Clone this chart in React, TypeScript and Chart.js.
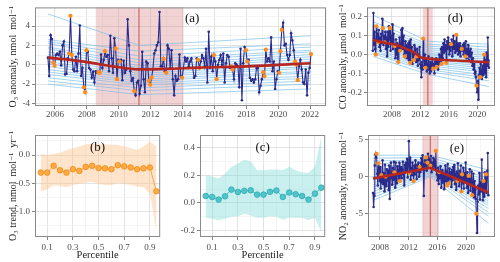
import React, { useEffect, useRef } from 'react';
import { Chart, registerables } from 'chart.js';
Chart.register(...registerables);

const SERIF = "'Liberation Serif', 'DejaVu Serif', serif";

// ---------- Panel (a): O3 anomaly ----------
const o3Start = 2005.56;
const o3Values = [
  0.73, -1.17, 3.06, 2.66, 0.23, -0.1, 1.0, 1.16, 1.0, 1.33,
  -0.07, 2.0, 2.4, -1.0, -0.94, 0.66, 1.16, 5.06, 1.0, -0.5,
  -0.67, 0.83, -0.67, 1.16, 4.06, -1.17, -0.34, -2.34, -2.84, 1.5,
  1.33, -0.34, -0.5, -1.34, -0.74, -1.84, -0.67, -0.84, -0.77, -0.84,
  1.06, -0.34, 0.5, 1.4, 0.83, 1.0, -0.67, 3.0, 0.66, -0.84,
  2.73, 1.66, -1.5, 0.5, 0.33, 0.5, -1.6, 0.4, -0.84, -0.5,
  4.7, 2.0,
  -0.67, -1.67, -1.4, -2.74, -3.17, -1.84, -1.67, -3.0, -2.17, 1.33,
  -1.5, -2.84, 0.33, 0.16, -1.67, -2.07, -1.34, -0.5, 1.16, 1.5,
  2.0, 2.33, 5.45, -0.17, -0.17, 0.6, -0.67, -0.84, 2.0, 1.66,
  -0.34, 1.5, -1.5, -3.17, -1.17, -1.67, -1.5, 1.06, -1.17, -1.34,
  -0.34, 0.73, 0.33, 0.66, -0.17, 0.33, 0.66, -0.34, -1.34, -1.17,
  0.66, 0.5, -0.34, 0.33, 1.0, 0.66, -0.17, 1.66, -1.84, 3.4,
  -0.34, 0.83, -0.67, 1.0, 0.33, -1.5, 0.0, 0.5, 1.0, 0.0,
  1.16, -1.84, 0.16, 1.0,
  0.83, -0.34, -0.17, -0.5, -1.5, 0.16, 0.0, -0.17, -2.34, 1.66,
  -3.67, 0.16, 1.83, 1.5, 0.33, 0.5, -1.34, -1.67, -1.5, -1.84,
  -1.5, -0.34, -0.34, -2.84, -2.17, -1.5, -0.77, -1.17, 1.56, 0.33,
  0.66, 0.33, 2.83, -0.67, 0.33, -2.5, -1.5, -0.67, -0.84, 1.4,
  3.6, 4.33, 2.0, 2.16, 1.0, 0.5, 1.0, 3.26, 2.5, 1.5,
  0.33, 0.0, -1.6, -0.17, 0.5, -0.5, -1.84, -2.0, -0.5, -3.17,
  -0.84, -0.34, 1.1,
];
const o3Orange = [4, 5, 16, 17, 18, 27, 28, 29, 38, 39, 43, 51, 52, 54, 65, 76, 77, 78, 87, 89, 101, 113, 114, 125, 127,
  138, 139, 149, 150, 162, 163, 164, 174, 175, 176, 186, 187, 188, 198];
const o3TrendYears = [2005.56, 2007.0, 2008.0, 2009.65, 2011.3, 2013.0, 2015.0, 2018.0, 2020.0, 2022.06];
const o3TrendValues = [0.73, 0.5, 0.27, -0.17, -0.48, -0.43, -0.3, -0.17, -0.02, 0.16];
const o3QYears = [2005.56, 2011.3, 2022.06];
const o3QStart = [-2.0, -1.67, -1.34, -1.0, -0.74, -0.5, -0.17, 0.1, 0.33, 0.6, 0.83, 1.06, 1.33, 1.66, 1.83, 2.2, 2.4, 2.6, 5.26];
const o3QBreak = [-3.1, -2.7, -2.4, -2.1, -1.9, -1.7, -1.5, -1.3, -1.1, -0.9, -0.7, -0.5, -0.3, -0.1, 0.2, 0.5, 0.9, 1.4, 2.0];
const o3QEnd = [-2.5, -2.0, -1.67, -1.4, -1.17, -0.84, -0.67, -0.34, -0.17, 0.07, 0.33, 0.6, 0.83, 1.06, 1.33, 1.5, 1.83, 2.16, 3.0];
const o3Band = [2008.56, 2014.06];
const o3Change = 2011.27;
const aXMajor = [2006, 2008, 2010, 2012, 2014, 2016, 2018, 2020, 2022];
const aXMinor = [2005, 2007, 2009, 2011, 2013, 2015, 2017, 2019, 2021, 2023];
const aYMajor = [-4, -2, 0, 2, 4];
const aYMinor = [-3, -1, 1, 3, 5];

// ---------- Panel (d): CO anomaly ----------
const coStart = 2005.32;
const coValues = [
  0.02, 0.22, 0.05, 0.12, 0.03, 0.00, 0.15, 0.07, 0.11, 0.065, 0.13, 0.04,
  0.09, 0.02, 0.11, 0.06, 0.19, 0.14, 0.05, 0.10, 0.065, 0.12, 0.03, 0.09,
  -0.01, 0.12, 0.04, 0.15, 0.08, 0.14, 0.02, 0.10, 0.06, 0.16, 0.03, 0.11,
  0.05, 0.045, -0.02, 0.08, 0.00, 0.06, -0.04, -0.04, 0.04, 0.09, 0.02, 0.03,
  0.13, 0.05, 0.14, 0.03, 0.10, 0.00, -0.01, 0.07, 0.01, 0.05, -0.02, 0.04,
  0.06, -0.03, 0.07, -0.045, 0.08, 0.02, 0.04, -0.05, 0.01, -0.03, 0.05, 0.00,
  0.02, -0.04, -0.01, 0.03, -0.06, 0.00, -0.03, 0.04, -0.05, -0.07, -0.12, -0.04,
  -0.08, 0.085, -0.02, -0.06, 0.00, -0.07, -0.03, -0.09, -0.05, -0.08, -0.01, -0.06,
  -0.10, -0.04, -0.09, -0.06, -0.02, -0.07, -0.075, -0.05, -0.10, -0.04, -0.06, -0.02,
  -0.065, -0.03, -0.08, -0.05, 0.00, -0.04, -0.01, 0.03, -0.05, 0.04, -0.02, 0.06,
  0.01, 0.08, 0.02, 0.05, -0.045, 0.07, 0.03, 0.09, 0.04, 0.00, 0.06, 0.02,
  0.055, 0.08, -0.01, 0.05, 0.10, 0.03, 0.07, 0.01, 0.04, 0.105, 0.02, 0.06,
  0.00, 0.05, 0.01, 0.06, -0.01, 0.04, 0.03, 0.02, 0.05, 0.00, 0.06, 0.02,
  -0.01, 0.07, -0.02, 0.03, 0.00, 0.05, -0.03, 0.02, -0.01, 0.03, -0.04, 0.01,
  -0.06, -0.02, -0.08, -0.05, -0.10, -0.09, -0.12, -0.165, -0.20, -0.14, -0.24, -0.11,
  -0.07, -0.12, -0.05, -0.09, -0.13, -0.06, -0.11, -0.04, 0.00, -0.10, -0.03, -0.12,
  0.01, -0.06, 0.09, -0.03, -0.07,
];
const coOrange = [5, 6, 9, 17, 20, 29, 37, 43, 46, 54, 63, 69, 74, 85, 89, 102, 108, 116, 124, 132, 141, 150, 156, 175, 181, 188];
const coTrendYears = [2005.32, 2007.0, 2008.7, 2010.0, 2011.0, 2012.2, 2013.0, 2014.3, 2017.0, 2019.5, 2021.65];
const coTrendValues = [0.077, 0.063, 0.05, 0.03, 0.014, -0.017, -0.021, -0.026, -0.032, -0.037, -0.041];
const coQYears = [2005.32, 2013.05, 2021.65];
const coQStart = [-0.01, 0.005, 0.015, 0.025, 0.035, 0.045, 0.055, 0.065, 0.072, 0.08, 0.088, 0.096, 0.105, 0.115, 0.125, 0.14, 0.155, 0.175, 0.21];
const coQBreak = [-0.105, -0.09, -0.08, -0.07, -0.06, -0.05, -0.04, -0.032, -0.025, -0.018, -0.01, -0.002, 0.006, 0.015, 0.025, 0.035, 0.045, 0.055, 0.07];
const coQEnd = [-0.17, -0.14, -0.125, -0.11, -0.095, -0.085, -0.075, -0.065, -0.055, -0.045, -0.035, -0.025, -0.015, -0.005, 0.005, 0.015, 0.025, 0.04, 0.055];
const coBand = [2012.35, 2013.75];
const coChange = 2013.05;
const dXMajor = [2008, 2012, 2016, 2020];
const dXMinor = [2006, 2010, 2014, 2018, 2022];
const dYMajor = [-0.2, -0.1, 0.0, 0.1, 0.2];
const dYMinor = [-0.25, -0.15, -0.05, 0.05, 0.15, 0.25];

// ---------- Panel (e): NO2 anomaly ----------
const no2Start = 2007.03;
const no2Values = [
  -2.2, -4.1, -2.6, 1.5, 3.0, 2.6, 3.1, 0.4, -1.2, 1.8, 0.9, -0.6,
  1.3, -1.6, 0.2, -0.8, 2.2, -1.0, 0.5, -2.0, 1.6, 0.0, -1.3, 1.0,
  -0.5, 0.8, -1.8, 1.5, -3.0, -0.2, 1.9, 0.3, -1.1, 1.2, -0.4, 2.0,
  0.6, -1.5, 1.9, 0.1, -0.9, 1.4, 0.8, -0.3, 1.9, -0.6, 0.4, 1.3,
  -0.2, 1.0, 2.0, 0.3, -1.2, 1.6, 0.6, 1.9, 0.9, 2.4, -0.1, 1.7,
  4.8, 0.5, 2.6, -0.4, 1.2, 0.2, 1.9, 0.8, -0.6, 1.5, 0.3, 2.2,
  0.9, -0.3, 1.6, 0.7, 1.9, 0.0, 1.3, 0.6, 1.8, 2.5, 1.0, 2.9,
  1.7, -2.6, 0.9, 2.2, 1.4, 2.6, 0.8, 1.9, 3.1, 1.2, 2.4, 2.0,
  1.5, 2.8, 0.6, 1.9, 1.0, 2.5, 1.4, 2.2, 1.1, 3.5, 0.8, 0.3,
  -0.5, 1.2, -1.0, 0.6, -0.2, 1.4, -1.5, 0.3, 0.9, -0.8, 0.5, -1.7,
  0.2, 1.5, -0.6, 0.8, -1.2, 1.7, 0.0, -0.9, 1.1, -0.3, 0.6, -1.4,
  0.9, -0.5, 1.3, -0.2, 1.6, -1.0, 0.4, -1.8, 0.7, -0.6, 1.8, 0.1,
  -1.3, 0.8, -0.4, 1.5, -2.0, 0.3, -0.9, 1.2, -1.6, 0.5, -0.7, 1.9,
  -0.2, -1.5, 0.6, -2.2, 0.1, -0.8, 1.0, -1.9, -0.3, 0.7, -2.5, -1.0,
  0.4, -2.8, -0.6, -1.7, -3.0, -5.0, -7.6, -3.4, -1.2, -2.4, 0.5, -3.1,
  -0.8, -2.0, 2.3, -1.5, -3.2, -0.6, -2.7, 0.6, -1.9, 0.3, -2.2, 0.8, 3.2, -2.5,
];
const no2Orange = [6, 9, 14, 21, 36, 45, 61, 68, 78, 89, 91, 96, 105, 111, 124, 127, 141, 148, 149, 160, 166, 173, 185, 189];
const no2TrendYears = [2007.03, 2015.03, 2023.11];
const no2TrendValues = [-0.25, 1.2, -2.1];
const no2QYears = [2007.03, 2015.03, 2023.11];
const no2QStart = [-3.2, -2.8, -2.4, -2.0, -1.7, -1.4, -1.1, -0.8, -0.5, -0.3, 0.0, 0.3, 0.6, 0.9, 1.3, 1.7, 2.1, 2.5, 2.9];
const no2QBreak = [0.0, 0.2, 0.4, 0.55, 0.7, 0.85, 1.0, 1.1, 1.2, 1.3, 1.4, 1.5, 1.6, 1.75, 1.9, 2.1, 2.3, 2.6, 2.9];
const no2QEnd = [-6.3, -5.3, -4.8, -4.3, -3.9, -3.6, -3.3, -3.0, -2.7, -2.4, -2.1, -1.8, -1.5, -1.2, -0.9, -0.6, -0.2, 0.3, 0.9];
const no2Band = [2013.9, 2016.2];
const no2Change = 2015.03;
const eXMajor = [2008, 2012, 2016, 2020];
const eXMinor = [2010, 2014, 2018, 2022];
const eYMajor = [-5, 0, 5];
const eYMinor = [-7.5, -2.5, 2.5];

// ---------- Panels (b), (c): trends by percentile ----------
const percentiles = [0.05, 0.1, 0.15, 0.2, 0.25, 0.3, 0.35, 0.4, 0.45, 0.5, 0.55, 0.6, 0.65, 0.7, 0.75, 0.8, 0.85, 0.9, 0.95];
const o3TrendQ = [-0.31, -0.31, -0.19, -0.27, -0.31, -0.25, -0.28, -0.21, -0.19, -0.23, -0.235, -0.25, -0.18, -0.2, -0.22, -0.25, -0.235, -0.22, -0.64];
const o3TrendUpper = [0.02, 0.0, 0.02, 0.04, 0.09, 0.12, 0.15, 0.19, 0.2, 0.19, 0.19, 0.18, 0.18, 0.15, 0.12, 0.09, 0.15, 0.24, 0.15];
const o3TrendLower = [-0.64, -0.61, -0.53, -0.55, -0.57, -0.53, -0.51, -0.49, -0.47, -0.51, -0.53, -0.53, -0.5, -0.51, -0.53, -0.56, -0.57, -0.68, -1.35];
const cTrendQ = [0.05, 0.043, 0.024, 0.048, 0.096, 0.079, 0.087, 0.091, 0.06, 0.06, 0.08, 0.09, 0.043, 0.075, 0.063, 0.05, 0.024, 0.067, 0.11];
const cTrendUpper = [0.2, 0.19, 0.176, 0.21, 0.26, 0.284, 0.31, 0.3, 0.236, 0.236, 0.24, 0.24, 0.236, 0.26, 0.236, 0.22, 0.215, 0.26, 0.48];
const cTrendLower = [-0.106, -0.113, -0.125, -0.113, -0.1, -0.096, -0.077, -0.09, -0.106, -0.106, -0.096, -0.1, -0.12, -0.106, -0.106, -0.106, -0.125, -0.106, -0.21];
const pXMajor = [0.1, 0.3, 0.5, 0.7, 0.9];
const pXMinor = [0.2, 0.4, 0.6, 0.8];
const bYMajor = [-1.0, -0.5, 0.0];
const bYMinor = [-1.25, -0.75, -0.25, 0.25];
const cYMajor = [-0.2, 0.0, 0.2, 0.4];
const cYMinor = [-0.1, 0.1, 0.3];

// ---------- helpers ----------
const near = (arr: number[], v: number) => arr.some((m) => Math.abs(m - v) < 1e-6);
const fmt1 = (v: number) => {
  const r = Math.round(v * 100) / 100;
  return (Math.abs(r) < 1e-9 ? 0 : r).toFixed(1);
};
const fmt0 = (v: number) => String(Math.round(v));

function linScale(min: number, max: number, majors: number[], minors: number[], fmt: (v: number) => string,
  size: number, isY: boolean, tickPad: number, title?: { text: string; pad: any }) {
  const all = [...majors, ...minors].sort((p, q) => p - q);
  const isMaj = (c: any) => c && c.tick ? near(majors, c.tick.value) : false;
  return {
    type: 'linear',
    min,
    max,
    afterBuildTicks: (s: any) => { s.ticks = all.map((v) => ({ value: v })); },
    afterFit: (s: any) => { if (isY) s.width = size; else s.height = size; },
    ticks: {
      autoSkip: false, maxRotation: 0, minRotation: 0, color: '#4d4d4d', padding: tickPad,
      font: { family: SERIF, size: 9 },
      callback: (v: number) => (near(majors, v) ? fmt(v) : ''),
    },
    grid: {
      color: (c: any) => (isMaj(c) ? '#dcdcdc' : '#efefef'),
      lineWidth: (c: any) => (isMaj(c) ? 0.8 : 0.6),
      tickLength: 3,
      tickColor: (c: any) => (isMaj(c) ? '#666666' : 'rgba(0,0,0,0)'),
    },
    border: { display: false },
    title: title
      ? { display: true, text: title.text, color: '#222222', font: { family: SERIF, size: 10 }, padding: title.pad }
      : { display: false },
  };
}

const panelPlugin = {
  id: 'panelDeco',
  beforeDatasetsDraw(chart: any, _a: any, opts: any) {
    if (!opts || !opts.band) return;
    const { ctx, chartArea: a, scales } = chart;
    const x0 = scales.x.getPixelForValue(opts.band[0]);
    const x1 = scales.x.getPixelForValue(opts.band[1]);
    const xc = scales.x.getPixelForValue(opts.change);
    ctx.save();
    ctx.fillStyle = 'rgba(210,110,110,0.30)';
    ctx.fillRect(x0, a.top, x1 - x0, a.bottom - a.top);
    ctx.strokeStyle = 'rgba(185,60,60,0.65)';
    ctx.lineWidth = 1.3;
    ctx.beginPath();
    ctx.moveTo(xc, a.top);
    ctx.lineTo(xc, a.bottom);
    ctx.stroke();
    ctx.restore();
  },
  afterDatasetsDraw(chart: any, _a: any, opts: any) {
    const { ctx, chartArea: a } = chart;
    ctx.save();
    ctx.strokeStyle = '#8a8a8a';
    ctx.lineWidth = 1;
    ctx.strokeRect(a.left + 0.5, a.top + 0.5, a.right - a.left - 1, a.bottom - a.top - 1);
    if (opts && opts.label) {
      ctx.fillStyle = '#111111';
      ctx.font = `13px ${SERIF}`;
      ctx.textAlign = 'center';
      ctx.textBaseline = 'middle';
      ctx.fillText(opts.label, a.left + opts.lx * (a.right - a.left), a.top + opts.ly * (a.bottom - a.top));
    }
    ctx.restore();
  },
};

function monthly(start: number, vals: number[]) {
  return vals.map((v, i) => ({ x: start + i / 12, y: v }));
}

function seriesConfig(p: {
  start: number; values: number[]; orange: number[]; trendX: number[]; trendY: number[]; smooth: boolean;
  qX: number[]; q0: number[]; q1: number[]; q2: number[];
  band: number[]; change: number;
  xMin: number; xMax: number; xMaj: number[]; xMin2: number[];
  yMin: number; yMax: number; yMaj: number[]; yMin2: number[]; yFmt: (v: number) => string;
  yWidth: number; xHeight: number; xPad: number; title: string; padding: any; label: string; lx: number; ly: number;
}) {
  const pts = monthly(p.start, p.values);
  const datasets: any[] = [];
  datasets.push({
    data: p.trendX.map((x, i) => ({ x, y: p.trendY[i] })),
    borderColor: '#b8271f', borderWidth: 2.6, pointRadius: 0, fill: false, order: 0,
    cubicInterpolationMode: p.smooth ? 'monotone' : 'default', tension: p.smooth ? 0.4 : 0,
  });
  datasets.push({
    data: p.orange.map((i) => pts[i]).filter(Boolean),
    showLine: false, pointRadius: 2.1, pointBackgroundColor: '#ff8c1a', pointBorderWidth: 0, order: 1,
  });
  datasets.push({
    data: pts, borderColor: '#2b2a8a', borderWidth: 1.1, pointRadius: 1.3, pointBackgroundColor: '#2b2a8a',
    pointBorderWidth: 0, tension: 0, fill: false, order: 2,
  });
  for (let i = 0; i < p.q0.length; i++) {
    datasets.push({
      data: [{ x: p.qX[0], y: p.q0[i] }, { x: p.qX[1], y: p.q1[i] }, { x: p.qX[2], y: p.q2[i] }],
      borderColor: 'rgba(120,190,235,0.85)', borderWidth: 0.8, pointRadius: 0, tension: 0, fill: false, order: 3,
    });
  }
  return {
    type: 'line',
    data: { datasets },
    options: {
      animation: false, responsive: false, maintainAspectRatio: false, events: [],
      layout: { padding: p.padding },
      plugins: {
        legend: { display: false }, tooltip: { enabled: false },
        panelDeco: { band: p.band, change: p.change, label: p.label, lx: p.lx, ly: p.ly },
      },
      scales: {
        x: linScale(p.xMin, p.xMax, p.xMaj, p.xMin2, fmt0, p.xHeight, false, p.xPad),
        y: linScale(p.yMin, p.yMax, p.yMaj, p.yMin2, p.yFmt, p.yWidth, true, 2, { text: p.title, pad: { top: 7, bottom: 0 } }),
      },
    },
    plugins: [panelPlugin],
  };
}

function percentileConfig(p: {
  vals: number[]; upper: number[]; lower: number[]; line: string; fillC: string; ptFill: string; ptBorder: string;
  yMin: number; yMax: number; yMaj: number[]; yMin2: number[]; title?: string; label: string; padding: any;
}) {
  const mk = (arr: number[]) => percentiles.map((x, i) => ({ x, y: arr[i] }));
  return {
    type: 'line',
    data: {
      datasets: [
        {
          data: mk(p.vals), borderColor: p.line, borderWidth: 1, pointRadius: 2.8, pointBackgroundColor: p.ptFill,
          pointBorderColor: p.ptBorder, pointBorderWidth: 0.8, tension: 0, fill: false, order: 0,
        },
        { data: mk(p.upper), borderWidth: 0, pointRadius: 0, fill: '+1', backgroundColor: p.fillC, tension: 0, order: 1 },
        { data: mk(p.lower), borderWidth: 0, pointRadius: 0, fill: false, tension: 0, order: 2 },
      ],
    },
    options: {
      animation: false, responsive: false, maintainAspectRatio: false, events: [],
      layout: { padding: p.padding },
      plugins: {
        legend: { display: false }, tooltip: { enabled: false },
        panelDeco: { label: p.label, lx: 0.5, ly: 0.12 },
      },
      scales: {
        x: {
          ...linScale(0.005, 0.98, pXMajor, pXMinor, fmt1, 25, false, 2),
          title: { display: true, text: 'Percentile', color: '#222222', font: { family: SERIF, size: 10.5 }, padding: { top: 0, bottom: 0 } },
        },
        y: linScale(p.yMin, p.yMax, p.yMaj, p.yMin2, (v) => fmt1(v), 35, true, 2,
          p.title ? { text: p.title, pad: { top: 7, bottom: 0 } } : undefined),
      },
    },
    plugins: [panelPlugin],
  };
}

const panels = [
  {
    left: 0, top: 0, width: 330, height: 125,
    cfg: () => seriesConfig({
      start: o3Start, values: o3Values, orange: o3Orange, trendX: o3TrendYears, trendY: o3TrendValues, smooth: true,
      qX: o3QYears, q0: o3QStart, q1: o3QBreak, q2: o3QEnd, band: o3Band, change: o3Change,
      xMin: 2004.75, xMax: 2023.0, xMaj: aXMajor, xMin2: aXMinor,
      yMin: -4.27, yMax: 5.93, yMaj: aYMajor, yMin2: aYMinor, yFmt: fmt0,
      yWidth: 35, xHeight: 19, xPad: 0, title: 'O₃ anomaly, nmol  mol⁻¹',
      padding: { left: 0, top: 4, right: 3, bottom: 0 }, label: '(a)', lx: 0.54, ly: 0.11,
    }),
  },
  {
    left: 330, top: 0, width: 170, height: 125,
    cfg: () => seriesConfig({
      start: coStart, values: coValues, orange: coOrange, trendX: coTrendYears, trendY: coTrendValues, smooth: true,
      qX: coQYears, q0: coQStart, q1: coQBreak, q2: coQEnd, band: coBand, change: coChange,
      xMin: 2004.5, xMax: 2022.5, xMaj: dXMajor, xMin2: dXMinor,
      yMin: -0.273, yMax: 0.25, yMaj: dYMajor, yMin2: dYMinor, yFmt: fmt1,
      yWidth: 37, xHeight: 19, xPad: 0, title: 'CO anomaly, μmol  mol⁻¹',
      padding: { left: 0, top: 4, right: 5, bottom: 0 }, label: '(d)', lx: 0.69, ly: 0.11,
    }),
  },
  {
    left: 330, top: 125, width: 170, height: 137,
    cfg: () => seriesConfig({
      start: no2Start, values: no2Values, orange: no2Orange, trendX: no2TrendYears, trendY: no2TrendValues, smooth: false,
      qX: no2QYears, q0: no2QStart, q1: no2QBreak, q2: no2QEnd, band: no2Band, change: no2Change,
      xMin: 2006.33, xMax: 2024.04, xMaj: eXMajor, xMin2: eXMinor,
      yMin: -8.15, yMax: 5.63, yMaj: eYMajor, yMin2: eYMinor, yFmt: fmt0,
      yWidth: 38, xHeight: 25, xPad: 2, title: 'NO₂ anomaly, nmol  mol⁻¹',
      padding: { left: 0, top: 10, right: 5, bottom: 0 }, label: '(e)', lx: 0.7, ly: 0.13,
    }),
  },
  {
    left: 0, top: 125, width: 165, height: 137,
    cfg: () => percentileConfig({
      vals: o3TrendQ, upper: o3TrendUpper, lower: o3TrendLower, line: '#f5a54e', fillC: 'rgba(252,196,140,0.45)',
      ptFill: '#ffab45', ptBorder: '#f08a12', yMin: -1.446, yMax: 0.353, yMaj: bYMajor, yMin2: bYMinor,
      title: 'O₃ trend, nmol  mol⁻¹  yr⁻¹', label: '(b)', padding: { left: 0, top: 10, right: 3, bottom: 0 },
    }),
  },
  {
    left: 165, top: 125, width: 165, height: 137,
    cfg: () => percentileConfig({
      vals: cTrendQ, upper: cTrendUpper, lower: cTrendLower, line: '#4bbfc6', fillC: 'rgba(120,214,214,0.40)',
      ptFill: '#52c5cb', ptBorder: '#2aa9b1', yMin: -0.245, yMax: 0.489, yMaj: cYMajor, yMin2: cYMinor,
      label: '(c)', padding: { left: 0, top: 10, right: 3, bottom: 0 },
    }),
  },
];

export default function App() {
  const refs = useRef<(HTMLCanvasElement | null)[]>([]);
  useEffect(() => {
    const charts = panels.map((p, i) => new Chart(refs.current[i] as HTMLCanvasElement, p.cfg() as any));
    return () => charts.forEach((c) => c.destroy());
  }, []);
  return (
    <div style={{ position: 'fixed', left: 0, top: 0, width: 500, height: 262, background: '#ffffff', overflow: 'hidden' }}>
      {panels.map((p, i) => (
        <canvas
          key={i}
          ref={(el) => { refs.current[i] = el; }}
          width={p.width}
          height={p.height}
          style={{ position: 'absolute', left: p.left, top: p.top, width: p.width, height: p.height }}
        />
      ))}
    </div>
  );
}
